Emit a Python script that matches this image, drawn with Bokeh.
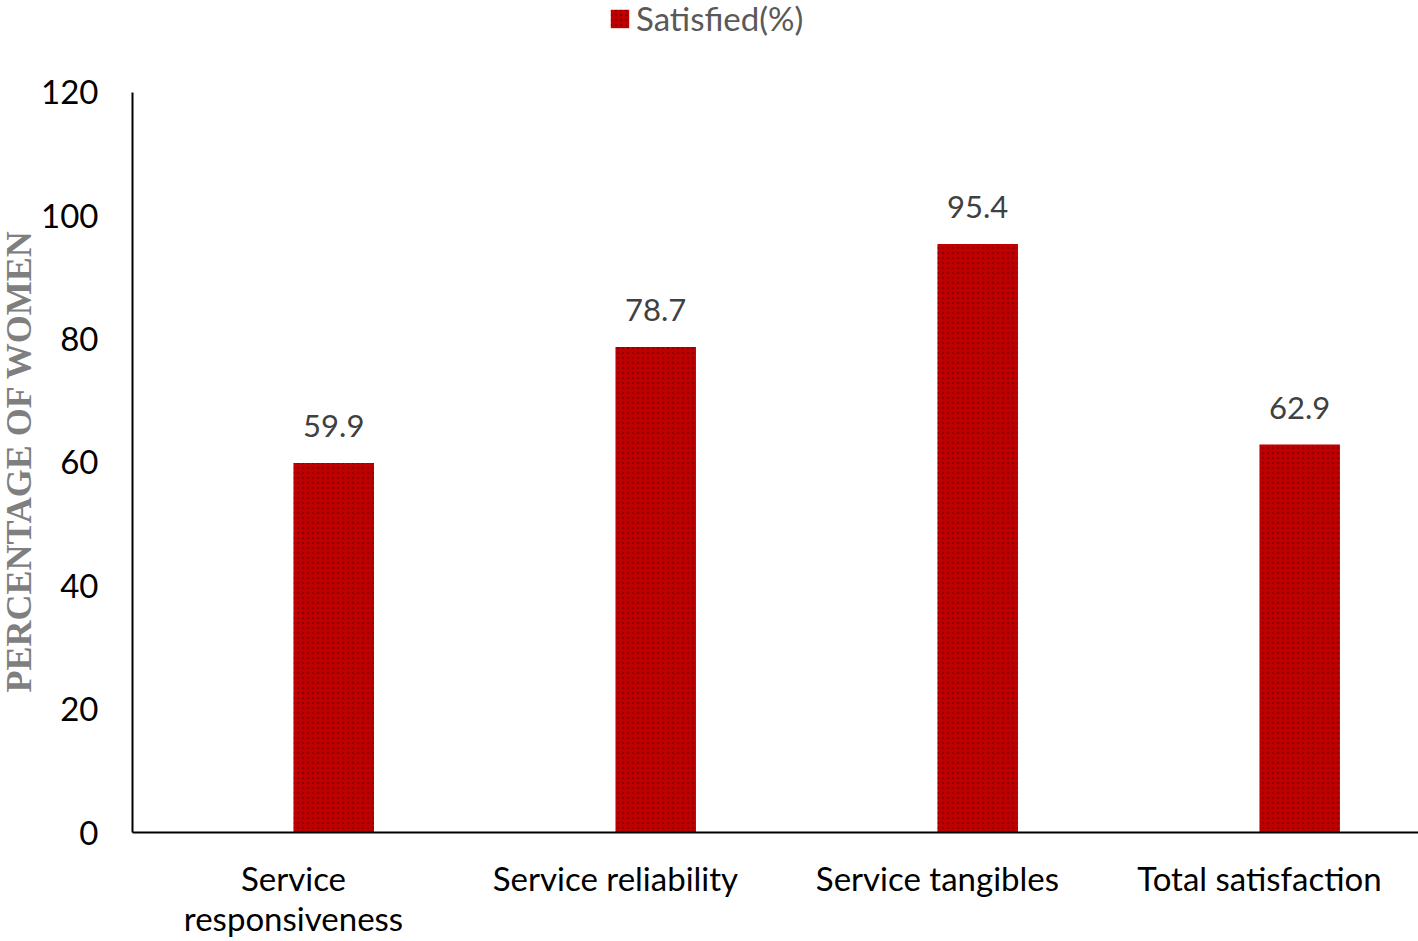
from bokeh.plotting import figure
from bokeh.models import ColumnDataSource, Legend, LegendItem, FixedTicker, Range1d, Title
from bokeh.core.properties import value
from bokeh.embed import file_html
from bokeh.resources import INLINE

categories = ["Service\nresponsiveness", "Service reliability", "Service tangibles", "Total satisfaction"]
satisfied = [59.9, 78.7, 95.4, 62.9]
labels = ["59.9", "78.7", "95.4", "62.9"]
y_ticks = [0, 20, 40, 60, 80, 100, 120]
y_title = "PERCENTAGE OF WOMEN"
series_name = "Satisfied(%)"

FONT = "Lato"

centers = [i + 0.5 for i in range(len(categories))]
bar_x = [c + 0.125 for c in centers]

src = ColumnDataSource(dict(x=bar_x, top=satisfied, lab=labels))

# frame runs from the top of the page down to the x axis; the y axis itself stops at 120
Y_MAX = 120
y_end = Y_MAX * 833 / 741

p = figure(width=1418, height=941, output_backend="svg", toolbar_location=None,
           x_range=Range1d(0, 3.994), y_range=Range1d(0, y_end),
           min_border_left=132, min_border_right=0, min_border_top=0, min_border_bottom=108)
p.outline_line_color = None
p.grid.visible = False
p.background_fill_color = "white"

r = p.vbar(x="x", top="top", width=0.25, source=src, fill_color="#C00000", line_color=None,
           hatch_pattern="dot", hatch_color="#300000", hatch_alpha=0.35, hatch_scale=5)

p.text(x="x", y="top", text="lab", source=src, text_align="center", text_baseline="bottom",
       y_offset=-26, text_font=value(FONT), text_font_size="31px", text_color="#404040")

p.xaxis.ticker = FixedTicker(ticks=centers)
p.xaxis.major_label_overrides = {c: lab for c, lab in zip(centers, categories)}
p.yaxis.ticker = FixedTicker(ticks=y_ticks)
p.yaxis.bounds = (0, Y_MAX)
for ax in (p.xaxis[0], p.yaxis[0]):
    ax.axis_line_color = "black"
    ax.axis_line_width = 2
    ax.major_tick_line_color = None
    ax.minor_tick_line_color = None
    ax.major_label_text_font = FONT
    ax.major_label_text_font_size = "33px"
    ax.major_label_text_color = "black"
p.xaxis.major_label_standoff = 19
p.xaxis.major_label_text_line_height = 1.02
p.yaxis.major_label_standoff = 28

title = Title(text=y_title, align="left", offset=140, standoff=-4, vertical_align="top",
              text_font="Liberation Serif", text_font_style="bold", text_font_size="36px",
              text_color="#7f7f7f")
p.add_layout(title, "left")

legend = Legend(items=[LegendItem(label=series_name, renderers=[r])],
                location=(476, 794), orientation="horizontal",
                label_text_font=FONT, label_text_font_size="33px", label_text_color="#595959",
                glyph_width=23, glyph_height=23, padding=0, margin=0, spacing=0,
                label_standoff=5, border_line_color=None, background_fill_alpha=0)
p.add_layout(legend, "center")

open("out.html", "w").write(file_html(p, INLINE))
